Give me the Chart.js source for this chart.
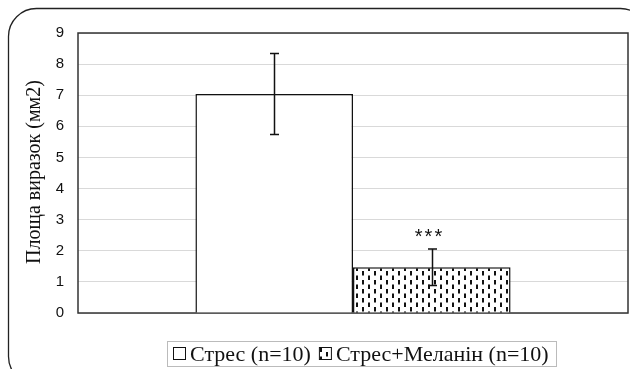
<!DOCTYPE html>
<html>
<head>
<meta charset="utf-8">
<script src="https://cdn.jsdelivr.net/npm/chart.js@4.4.1/dist/chart.umd.min.js"></script>
<style>
  html, body { margin: 0; padding: 0; background: #fff; }
  #wrap { width: 630px; height: 369px; }
</style>
</head>
<body>
<div id="wrap"><canvas id="ulcerChart" width="630" height="369"></canvas></div>
<script>
const categories = [""];
const seriesLabels = ["Стрес (n=10)", "Стрес+Меланін (n=10)"];
const stressValues = [7.04];
const melaninValues = [1.47];
const stressErrors = [1.3];
const melaninErrors = [0.59];
const yTicks = [0, 1, 2, 3, 4, 5, 6, 7, 8, 9];
const yTitle = "Площа виразок (мм2)";
const significance = ["", "***"];

// dashed-vertical fill like the original Excel pattern
function makePattern() {
  const c = document.createElement("canvas");
  c.width = 12;
  c.height = 9;
  const p = c.getContext("2d");
  p.fillStyle = "#fff";
  p.fillRect(0, 0, 12, 9);
  p.fillStyle = "#111";
  p.fillRect(2, 1, 2, 4.5);
  p.fillRect(8, 5.5, 2, 3.5);
  p.fillRect(8, 0, 2, 1);
  return p.createPattern(c, "repeat");
}
const dashPattern = makePattern();

const serif = "'Liberation Serif', 'Times New Roman', serif";
const sans = "'Liberation Sans', Arial, sans-serif";

const framePlugin = {
  id: "frame",
  beforeDraw(chart) {
    const ctx = chart.ctx;
    ctx.save();
    ctx.fillStyle = "#fff";
    ctx.fillRect(0, 0, chart.width, chart.height);
    ctx.strokeStyle = "#222";
    ctx.lineWidth = 1.3;
    ctx.beginPath();
    ctx.roundRect(8.5, 8.5, 640, 376, 28);
    ctx.stroke();
    ctx.restore();
  },
  beforeDatasetsDraw(chart) {
    const { ctx, chartArea: a } = chart;
    ctx.save();
    ctx.strokeStyle = "#333";
    ctx.lineWidth = 1.5;
    ctx.strokeRect(a.left, a.top, a.right - a.left, a.bottom - a.top);
    ctx.restore();
  },
  afterDatasetsDraw(chart) {
    const ctx = chart.ctx;
    const y = chart.scales.y;
    const errs = [stressErrors, melaninErrors];
    ctx.save();
    ctx.strokeStyle = "#111";
    ctx.lineWidth = 1.5;
    chart.data.datasets.forEach((ds, i) => {
      const meta = chart.getDatasetMeta(i);
      meta.data.forEach((bar, j) => {
        const v = ds.data[j];
        const e = errs[i][j];
        const yt = y.getPixelForValue(v + e);
        const yb = y.getPixelForValue(v - e);
        const x = Math.round(bar.x) + 0.5;
        ctx.beginPath();
        ctx.moveTo(x, yt); ctx.lineTo(x, yb);
        ctx.moveTo(x - 4.5, yt); ctx.lineTo(x + 4.5, yt);
        ctx.moveTo(x - 4.5, yb); ctx.lineTo(x + 4.5, yb);
        ctx.stroke();
        if (significance[i]) {
          ctx.fillStyle = "#111";
          ctx.font = "20px " + sans;
          ctx.letterSpacing = "2px";
          ctx.textAlign = "center";
          ctx.textBaseline = "middle";
          ctx.fillText(significance[i], x - 3, yt - 11);
          ctx.letterSpacing = "0px";
        }
      });
    });
    ctx.restore();
  },
  afterDraw(chart) {
    const ctx = chart.ctx;
    ctx.save();
    // y-axis title
    ctx.fillStyle = "#111";
    ctx.font = "20px " + serif;
    ctx.textAlign = "center";
    ctx.textBaseline = "middle";
    ctx.translate(35, 172);
    ctx.rotate(-Math.PI / 2);
    ctx.fillText(yTitle, 0, 0);
    ctx.restore();

    // legend box
    ctx.save();
    ctx.font = "22px " + serif;
    ctx.textBaseline = "middle";
    ctx.textAlign = "left";
    const fills = ["#fff", dashPattern];
    let mx = 173;
    seriesLabels.forEach((lab, i) => {
      ctx.fillStyle = fills[i];
      ctx.fillRect(mx, 347, 12, 12);
      ctx.strokeStyle = "#111";
      ctx.lineWidth = 1;
      ctx.strokeRect(mx + 0.5, 347.5, 12, 12);
      ctx.fillStyle = "#111";
      ctx.fillText(lab, mx + 17, 355);
      mx += 17 + ctx.measureText(lab).width + 8;
    });
    ctx.strokeStyle = "#bbb";
    ctx.lineWidth = 1;
    ctx.strokeRect(167.5, 341.5, Math.round(mx - 168), 25);
    ctx.restore();
  }
};

new Chart(document.getElementById("ulcerChart"), {
  type: "bar",
  data: {
    labels: categories,
    datasets: [
      {
        label: seriesLabels[0],
        data: stressValues,
        backgroundColor: "#fff",
        borderColor: "#111",
        borderWidth: 1.5,
      },
      {
        label: seriesLabels[1],
        data: melaninValues,
        backgroundColor: dashPattern,
        borderColor: "#111",
        borderWidth: 1.5,
      },
    ],
  },
  options: {
    responsive: false,
    animation: false,
    layout: { padding: { left: 0, top: 33, right: 2, bottom: 56 } },
    datasets: { bar: { barPercentage: 1, categoryPercentage: 0.573 } },
    plugins: {
      legend: { display: false },
      tooltip: { enabled: false },
    },
    scales: {
      x: {
        grid: { display: false, drawTicks: false },
        border: { display: false },
        ticks: { display: false },
        afterFit(s) { s.height = 0; },
      },
      y: {
        min: 0,
        max: 9,
        afterBuildTicks(s) { s.ticks = yTicks.map(v => ({ value: v })); },
        afterFit(s) { s.width = 78; },
        grid: { color: "#d9d9d9", lineWidth: 1, drawTicks: false },
        border: { display: false },
        ticks: {
          padding: 14,
          color: "#111",
          font: { family: sans, size: 15 },
        },
      },
    },
  },
  plugins: [framePlugin],
});
</script>
</body>
</html>
